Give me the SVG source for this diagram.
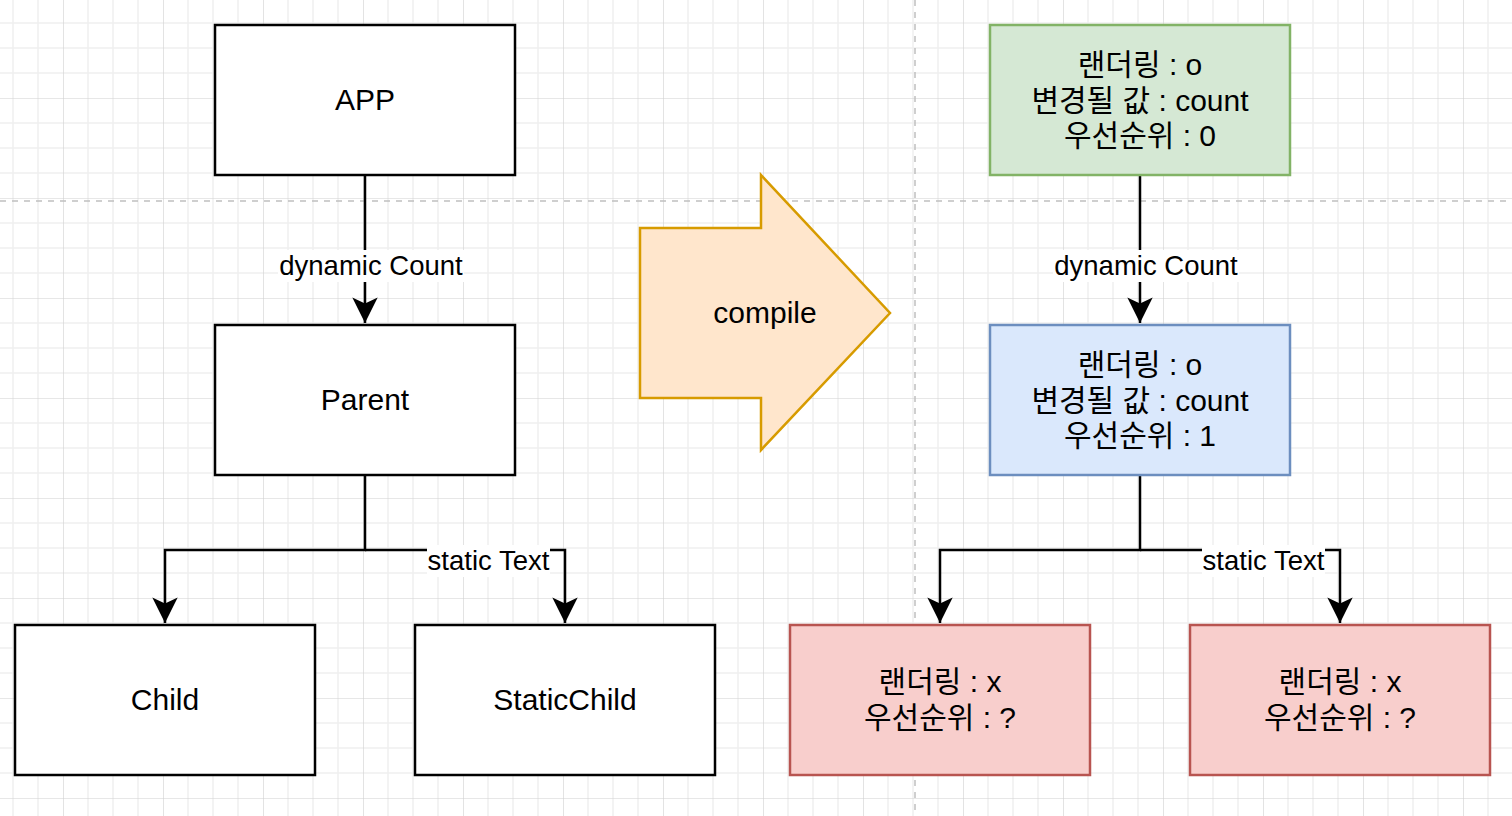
<svg xmlns="http://www.w3.org/2000/svg" width="1512" height="816" viewBox="0 0 1512 816">
<defs>
<pattern id="grid" x="63" y="98" width="100" height="100" patternUnits="userSpaceOnUse">
<path d="M25 0V100M50 0V100M75 0V100M0 25H100M0 50H100M0 75H100" stroke="#f0f0f0" stroke-width="1.5" fill="none"/>
<path d="M0 0V100M0 0H100" stroke="#d0d0d0" stroke-width="1.2" fill="none"/>
</pattern>
<marker id="arr" markerUnits="userSpaceOnUse" markerWidth="30" markerHeight="30" viewBox="-24 -13 26 26" refX="0" refY="0" orient="auto">
<path d="M0 0L-22 -11L-17 0L-22 11Z" fill="#000"/>
</marker>
<style>
.box{stroke-width:2.5}
.plain{fill:#fff;stroke:#000}
.green{fill:#d5e8d4;stroke:#82b366}
.blue{fill:#dae8fc;stroke:#6c8ebf}
.red{fill:#f8cecc;stroke:#b85450}
.t{font-family:"Liberation Sans","Noto Sans CJK KR",Arial,sans-serif;font-size:30px;fill:#000;text-anchor:middle}
.lbl{font-family:"Liberation Sans",Arial,sans-serif;font-size:27.5px;fill:#000;text-anchor:middle}
.edge{fill:none;stroke:#000;stroke-width:2.5}
.dash{stroke:#c0c0c0;stroke-width:1.5;stroke-dasharray:6 6;fill:none}
</style>
</defs>
<rect width="1512" height="816" fill="#fff"/>
<rect width="1512" height="816" fill="url(#grid)"/>
<g id="guides">
<path class="dash" d="M0 201H1512"/>
<path class="dash" d="M915 0V816"/>
</g>
<g id="connectors">
<path class="edge" d="M365 175V323" marker-end="url(#arr)"/>
<path class="edge" d="M365 475V550H165V623" marker-end="url(#arr)"/>
<path class="edge" d="M365 550H565V623" marker-end="url(#arr)"/>
<path class="edge" d="M1140 175V323" marker-end="url(#arr)"/>
<path class="edge" d="M1140 475V550H940V623" marker-end="url(#arr)"/>
<path class="edge" d="M1140 550H1340V623" marker-end="url(#arr)"/>
<rect x="278" y="250" width="186" height="32" fill="#fff"/>
<text class="lbl" x="371" y="275">dynamic Count</text>
<rect x="1053" y="250" width="186" height="32" fill="#fff"/>
<text class="lbl" x="1146" y="275">dynamic Count</text>
<rect x="427" y="545" width="123" height="32" fill="#fff"/>
<text class="lbl" x="488.5" y="570">static Text</text>
<rect x="1202" y="545" width="123" height="32" fill="#fff"/>
<text class="lbl" x="1263.5" y="570">static Text</text>
</g>
<g id="app"><rect class="box plain" x="215" y="25" width="300" height="150"/><text class="t" x="365" y="110">APP</text></g>
<g id="parent"><rect class="box plain" x="215" y="325" width="300" height="150"/><text class="t" x="365" y="410">Parent</text></g>
<g id="child"><rect class="box plain" x="15" y="625" width="300" height="150"/><text class="t" x="165" y="710">Child</text></g>
<g id="staticchild"><rect class="box plain" x="415" y="625" width="300" height="150"/><text class="t" x="565" y="710">StaticChild</text></g>
<g id="compile">
<path d="M640 228H761V175L890 313L761 450V398H640Z" fill="#ffe6cc" stroke="#d79b00" stroke-width="2.5" stroke-linejoin="miter"/>
<text class="t" x="765" y="323">compile</text>
</g>
<g id="app-compiled"><rect class="box green" x="990" y="25" width="300" height="150"/>
<text class="t" x="1140" y="75">랜더링 : o</text><text class="t" x="1140" y="111">변경될 값 : count</text><text class="t" x="1140" y="146">우선순위 : 0</text></g>
<g id="parent-compiled"><rect class="box blue" x="990" y="325" width="300" height="150"/>
<text class="t" x="1140" y="375">랜더링 : o</text><text class="t" x="1140" y="411">변경될 값 : count</text><text class="t" x="1140" y="446">우선순위 : 1</text></g>
<g id="child-compiled"><rect class="box red" x="790" y="625" width="300" height="150"/>
<text class="t" x="940" y="692">랜더링 : x</text><text class="t" x="940" y="728">우선순위 : ?</text></g>
<g id="staticchild-compiled"><rect class="box red" x="1190" y="625" width="300" height="150"/>
<text class="t" x="1340" y="692">랜더링 : x</text><text class="t" x="1340" y="728">우선순위 : ?</text></g>
</svg>
